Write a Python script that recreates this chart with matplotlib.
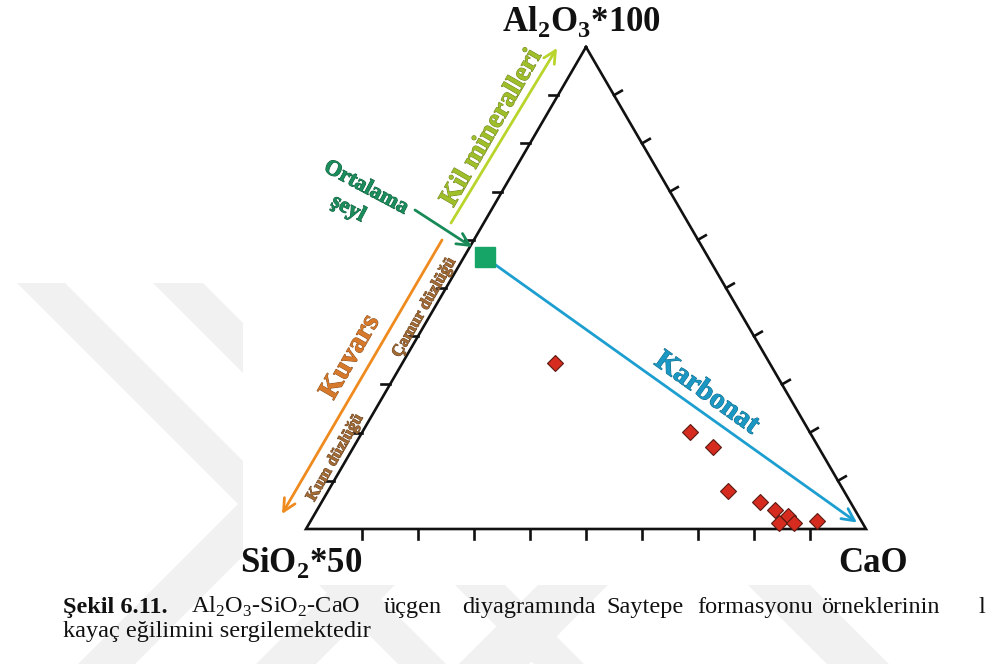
import numpy as np
import matplotlib.pyplot as plt
from matplotlib.patches import Polygon, Rectangle
import matplotlib.patheffects as pe

# Saytepe samples, normalised % of (Al2O3*100, SiO2*50, CaO)
al2o3 = [34.4, 20.1, 17.0, 7.9, 5.6, 3.9, 2.7, 1.2, 1.2, 1.7]
sio2 = [38.3, 21.4, 18.8, 20.7, 16.1, 14.3, 12.6, 15.0, 12.2, 7.9]
cao = [27.3, 58.5, 64.2, 71.4, 78.3, 81.8, 84.7, 83.8, 86.5, 90.4]

# average shale (Ortalama şeyl)
shale_al2o3, shale_sio2, shale_cao = 56.4, 39.9, 3.7

tick_vals = [10, 20, 30, 40, 50, 60, 70, 80, 90]

caption_words = ["Al$_\\mathregular{2}$O$_\\mathregular{3}$-SiO$_\\mathregular{2}$-CaO",
                 "üçgen", "diyagramında", "Saytepe", "formasyonu", "örneklerinin", "l"]
caption_x = [191, 384, 462, 606, 697, 821, 979]

SERIF = ["Liberation Serif", "DejaVu Serif"]

# triangle corners in pixel space (y goes down)
P_AL = np.array([586.0, 47.0])
P_SI = np.array([306.0, 529.0])
P_CA = np.array([866.0, 529.0])


def tern(al, si, ca):
    al, si, ca = (np.atleast_1d(np.asarray(v, float)) for v in (al, si, ca))
    tot = al + si + ca
    return (np.outer(al / tot, P_AL) + np.outer(si / tot, P_SI)
            + np.outer(ca / tot, P_CA))


def band(x_top, width, lean, y0=283, y1=700):
    dx = (y1 - y0) * lean
    return Polygon([(x_top, y0), (x_top + width, y0),
                    (x_top + width + dx, y1), (x_top + dx, y1)],
                   closed=True, fc="#f1f1f1", ec="none", zorder=0)


fig = plt.figure(figsize=(9.86, 6.64), dpi=100)
ax = fig.add_axes([0, 0, 1, 1])
ax.set_xlim(0, 986)
ax.set_ylim(664, 0)
ax.axis("off")

# faint page watermark
for xt, w, lean in [(17, 48, 1), (153, 50, 1), (459, 57, -1), (637, 60, -1),
                    (840, 70, -1), (446, 62, 1)]:
    ax.add_patch(band(xt, w, lean))
ax.add_patch(Rectangle((243, 0), 669, 585, fc="white", ec="none", zorder=1))

# frame
tri = tern([100, 0, 0, 100], [0, 100, 0, 0], [0, 0, 100, 0])
ax.plot(tri[:, 0], tri[:, 1], color="#111111", lw=1.9, zorder=3,
        solid_joinstyle="miter")

t = np.array(tick_vals, float)
tk = 9
bot = tern(0 * t, 100 - t, t)
lft = tern(t, 100 - t, 0 * t)
rgt = tern(t, 0 * t, 100 - t)
for p in bot:
    ax.plot([p[0], p[0]], [p[1], p[1] + 10], color="#111111", lw=1.9, zorder=3)
for p in lft:
    ax.plot([p[0], p[0] - tk], [p[1], p[1]], color="#111111", lw=1.9, zorder=3)
for p in rgt:
    ax.plot([p[0], p[0] + tk * 0.866], [p[1], p[1] - tk * 0.5],
            color="#111111", lw=1.9, zorder=3)

# corner labels
lab = dict(family=SERIF, fontweight="bold", fontsize=25, color="#111111", zorder=4)
ax.text(582, 31, "Al$_\\mathregular{2}$O$_\\mathregular{3}$*100", ha="center",
        va="baseline", **lab)
ax.text(240, 572, "SiO$_\\mathregular{2}$*50", ha="left", va="baseline", **lab)
ax.text(908, 572, "CaO", ha="right", va="baseline", **lab)

# carbonate trend from average shale to CaO corner
sh = tern(shale_al2o3, shale_sio2, shale_cao)[0]
ca_pt = tern(0, 0, 100)[0]
ax.annotate("", xy=ca_pt, xytext=sh, zorder=4,
            arrowprops=dict(arrowstyle="->", color="#1c9fd0", lw=2.0,
                            mutation_scale=22, shrinkA=0, shrinkB=8))
ax.plot(sh[0], sh[1], marker="s", ms=14, color="#16a566", mec="#16a566",
        zorder=5)

# samples
pts = tern(al2o3, sio2, cao)
ax.plot(pts[:, 0], pts[:, 1], ls="none", marker="D", ms=8.5, mfc="#d62b1f",
        mec="#5a1a12", mew=0.8, zorder=5)


def arrow(tail, head, color):
    ax.annotate("", xy=head, xytext=tail, zorder=4,
                arrowprops=dict(arrowstyle="->", color=color, lw=2.0,
                                mutation_scale=22, shrinkA=0, shrinkB=0))


def label(x, y, s, color, size, rot, edge):
    ax.text(x, y, s, color=color, fontsize=size, rotation=rot, family=SERIF,
            fontweight="bold", ha="center", va="center", rotation_mode="anchor",
            zorder=4, path_effects=[pe.withStroke(linewidth=0.7, foreground=edge)])


arrow((451, 223), (557, 48), "#b9d52c")
label(492, 128, "Kil mineralleri", "#9fbf2a", 20, 60, "#6d7f22")

arrow((442, 240), (282, 514), "#ef8a1e")
label(350, 357, "Kuvars", "#d7792a", 21, 60, "#8a4f1e")
label(424, 308, "Çamur düzlüğü", "#a26b35", 12, 60, "#6b4524")
label(335, 458, "Kum düzlüğü", "#a26b35", 12, 60, "#6b4524")

arrow((415, 210), (472, 247), "#178a57")
label(366, 188, "Ortalama", "#1b8c5c", 16, -28, "#0f5a3a")
label(348, 209, "şeyl", "#1b8c5c", 16, -28, "#0f5a3a")

label(707, 393, "Karbonat", "#1a97c2", 21, -35.5, "#106784")

# caption
cap = dict(family=SERIF, fontsize=17.5, color="#111111", va="baseline", zorder=4)
ax.text(63, 613, "Şekil 6.11.", fontweight="bold", **cap)
for w, x in zip(caption_words, caption_x):
    ax.text(x, 613, w, **cap)
ax.text(63, 637, "kayaç eğilimini sergilemektedir", **cap)

fig.savefig("out.png", dpi=100)
